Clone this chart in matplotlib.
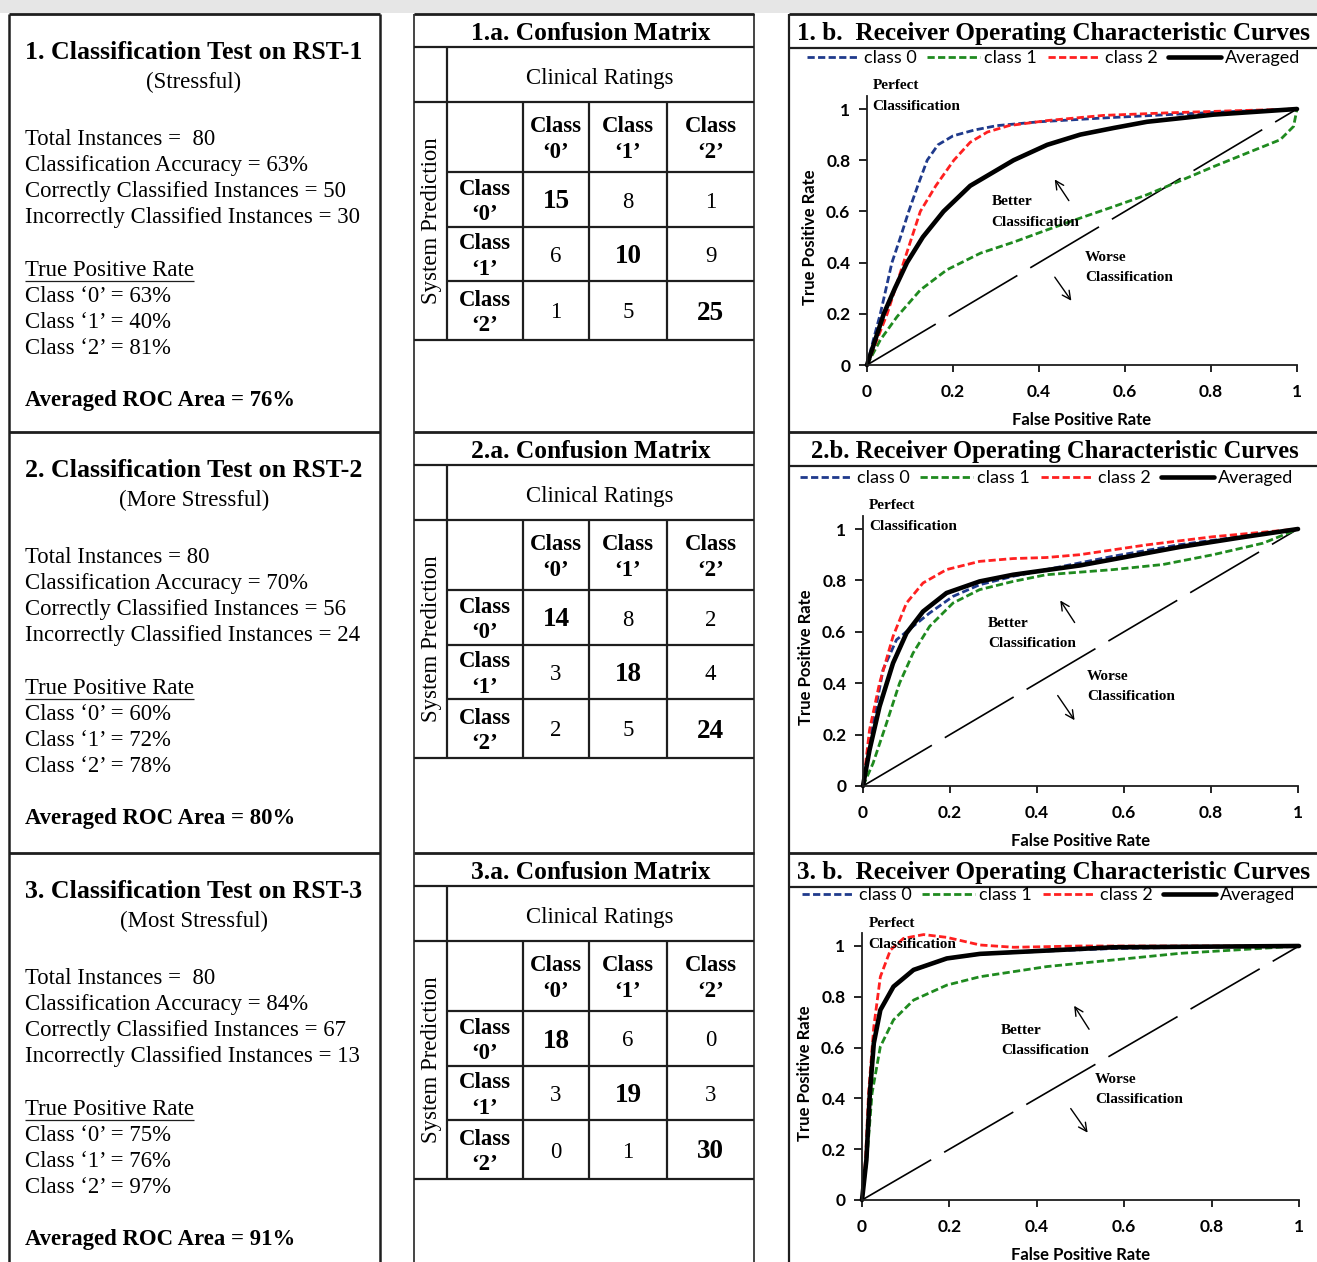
import matplotlib
matplotlib.use('Agg')
import matplotlib.pyplot as plt
from matplotlib.patches import Rectangle

# ---- left column: classification summaries
test_titles = ['1. Classification Test on RST-1', '2. Classification Test on RST-2', '3. Classification Test on RST-3']
test_subtitles = ['(Stressful)', '(More Stressful)', '(Most Stressful)']
total_txt = ['Total Instances =  80', 'Total Instances = 80', 'Total Instances =  80']
accuracy = [63, 70, 84]
correct = [50, 56, 67]
incorrect = [30, 24, 13]
tpr_class = [[63, 40, 81], [60, 72, 78], [75, 76, 97]]
roc_area = [76, 80, 91]

# ---- middle column: confusion matrices (rows = system prediction, cols = clinical ratings)
cm_titles = ['1.a. Confusion Matrix', '2.a. Confusion Matrix', '3.a. Confusion Matrix']
cm1 = [[15, 8, 1], [6, 10, 9], [1, 5, 25]]
cm2 = [[14, 8, 2], [3, 18, 4], [2, 5, 24]]
cm3 = [[18, 6, 0], [3, 19, 3], [0, 1, 30]]
class_names = ['Class\n\u20180\u2019', 'Class\n\u20181\u2019', 'Class\n\u20182\u2019']

# ---- right column: ROC curves (fpr, tpr)
roc_titles = ['1. b.  Receiver Operating Characteristic Curves',
              '2.b. Receiver Operating Characteristic Curves',
              '3. b.  Receiver Operating Characteristic Curves']
roc1_c0 = ([0, 0.015, 0.031, 0.058, 0.078, 0.097, 0.118, 0.14, 0.165, 0.2, 0.25, 0.302, 0.4, 0.55, 0.7, 0.85, 1.0],
           [0, 0.1, 0.2, 0.4, 0.5, 0.6, 0.7, 0.8, 0.86, 0.895, 0.918, 0.935, 0.95, 0.965, 0.978, 0.99, 1.0])
roc1_c1 = ([0, 0.031, 0.07, 0.124, 0.186, 0.264, 0.341, 0.419, 0.496, 0.574, 0.651, 0.729, 0.806, 0.884, 0.961, 0.992, 1.0],
           [0, 0.098, 0.189, 0.293, 0.372, 0.437, 0.48, 0.528, 0.574, 0.619, 0.665, 0.72, 0.775, 0.828, 0.88, 0.932, 1.0])
roc1_c2 = ([0, 0.047, 0.085, 0.124, 0.16, 0.202, 0.24, 0.28, 0.33, 0.42, 0.55, 0.7, 0.85, 1.0],
           [0, 0.2, 0.4, 0.6, 0.7, 0.8, 0.87, 0.91, 0.935, 0.955, 0.975, 0.985, 0.993, 1.0])
roc1_avg = ([0, 0.039, 0.065, 0.093, 0.13, 0.178, 0.24, 0.341, 0.419, 0.496, 0.574, 0.651, 0.806, 1.0],
            [0, 0.2, 0.3, 0.4, 0.5, 0.6, 0.7, 0.8, 0.86, 0.9, 0.926, 0.95, 0.978, 1.0])

roc2_c0 = ([0, 0.023, 0.046, 0.077, 0.115, 0.153, 0.207, 0.268, 0.345, 0.421, 0.498, 0.575, 0.728, 1.0],
           [0, 0.244, 0.452, 0.569, 0.621, 0.673, 0.738, 0.783, 0.816, 0.842, 0.868, 0.894, 0.939, 1.0])
roc2_c1 = ([0, 0.023, 0.054, 0.084, 0.115, 0.153, 0.207, 0.268, 0.345, 0.421, 0.575, 0.69, 0.805, 0.92, 1.0],
           [0, 0.088, 0.244, 0.4, 0.517, 0.621, 0.712, 0.764, 0.796, 0.822, 0.842, 0.862, 0.9, 0.945, 1.0])
roc2_c2 = ([0, 0.015, 0.038, 0.069, 0.1, 0.138, 0.192, 0.268, 0.345, 0.421, 0.498, 0.575, 0.651, 0.805, 1.0],
           [0, 0.218, 0.4, 0.582, 0.712, 0.79, 0.842, 0.874, 0.885, 0.889, 0.9, 0.919, 0.938, 0.97, 1.0])
roc2_avg = ([0, 0.015, 0.038, 0.069, 0.1, 0.138, 0.192, 0.268, 0.345, 0.421, 0.498, 0.575, 0.728, 0.88, 1.0],
            [0, 0.14, 0.309, 0.478, 0.595, 0.679, 0.751, 0.796, 0.822, 0.84, 0.858, 0.882, 0.93, 0.97, 1.0])

roc3_c0 = ([0, 0.01, 0.018, 0.027, 0.042, 0.072, 0.118, 0.194, 0.27, 0.423, 0.575, 0.75, 1.0],
           [0, 0.16, 0.42, 0.62, 0.75, 0.84, 0.905, 0.95, 0.968, 0.98, 0.99, 0.995, 1.0])
roc3_c1 = ([0, 0.011, 0.023, 0.042, 0.072, 0.118, 0.194, 0.27, 0.423, 0.575, 0.727, 0.88, 1.0],
           [0, 0.157, 0.42, 0.604, 0.709, 0.787, 0.846, 0.879, 0.919, 0.945, 0.971, 0.987, 1.0])
roc3_c2 = ([0, 0.008, 0.015, 0.027, 0.042, 0.065, 0.095, 0.141, 0.194, 0.27, 0.347, 0.5, 1.0],
           [0, 0.157, 0.42, 0.682, 0.879, 0.984, 1.03, 1.045, 1.034, 1.004, 0.995, 1.0, 1.0])
roc3_avg = ([0, 0.01, 0.018, 0.027, 0.042, 0.072, 0.118, 0.194, 0.27, 0.423, 0.575, 1.0],
            [0, 0.157, 0.42, 0.617, 0.748, 0.84, 0.906, 0.951, 0.969, 0.982, 0.995, 1.0])

legend_labels = ['class 0', 'class 1', 'class 2', 'Averaged']
tick_vals = [0, 0.2, 0.4, 0.6, 0.8, 1.0]
tick_txt = ['0', '0.2', '0.4', '0.6', '0.8', '1']

SERIF = 'Liberation Serif'
SANS = 'Lato'
W, H = 1317, 1262
LC = '#1e1e1e'
DY = 2.5  # nudge serif text down a little

fig = plt.figure(figsize=(W / 100, H / 100), dpi=100)
ax0 = fig.add_axes([0, 0, 1, 1])
ax0.set_xlim(0, W)
ax0.set_ylim(H, 0)
ax0.axis('off')

ax0.add_patch(Rectangle((0, 0), W, 13, color='#e6e6e6', lw=0))


def seg(x0, y0, x1, y1, lw=1.6, c=LC):
    ax0.plot([x0, x1], [y0, y1], color=c, lw=lw, solid_capstyle='butt')


def stext(x, y, s, size=16.4, bold=False, **kw):
    return ax0.text(x, y + DY, s, fontsize=size, family=SERIF, va='center',
                    weight='bold' if bold else 'normal', **kw)


offsets = [0, 418, 839]

# column frames
for x in [9, 380]:
    seg(x, 14, x, H, lw=1.8)
for x in [414, 754]:
    seg(x, 14, x, H, lw=1.4, c='#444444')
seg(789, 14, 789, H, lw=1.6)
for off in offsets:
    seg(9, 14 + off, 380, 14 + off, lw=2.0)
    seg(414, 14 + off, 754, 14 + off, lw=2.0)
    seg(789, 14 + off, W, 14 + off, lw=2.0)
    seg(789, 48 + off, W, 48 + off, lw=1.6)

# ---- left column text
fig.canvas.draw()
for i, off in enumerate(offsets):
    stext(194, 50 + off, test_titles[i], size=18.6, bold=True, ha='center')
    stext(194, 80 + off, test_subtitles[i], ha='center')
    body = [total_txt[i],
            'Classification Accuracy = %d%%' % accuracy[i],
            'Correctly Classified Instances = %d' % correct[i],
            'Incorrectly Classified Instances = %d' % incorrect[i]]
    for k, s in enumerate(body):
        stext(25, 137 + 26 * k + off, s, ha='left')
    t = stext(25, 268 + off, 'True Positive Rate', ha='left')
    tw = t.get_window_extent(renderer=fig.canvas.get_renderer()).width
    seg(25, 281 + off, 25 + tw, 281 + off, lw=0.9)
    for k in range(3):
        stext(25, 294 + 26 * k + off, 'Class \u2018%d\u2019 = %d%%' % (k, tpr_class[i][k]), ha='left')
    stext(25, 398 + off, 'Averaged ROC Area = %d%%' % roc_area[i], bold=True, ha='left')

# ---- confusion matrices
col_x = [447, 523, 589, 667, 754]
row_y = [172, 227, 281, 340]
for i, (off, cm) in enumerate(zip(offsets, [cm1, cm2, cm3])):
    seg(414, 47 + off, 754, 47 + off)
    seg(414, 102 + off, 754, 102 + off)
    for y in row_y[:-1]:
        seg(447, y + off, 754, y + off)
    seg(414, 340 + off, 754, 340 + off)
    seg(447, 47 + off, 447, 340 + off)
    for x in col_x[1:-1]:
        seg(x, 102 + off, x, 340 + off)

    stext(591, 31 + off, cm_titles[i], size=18.4, bold=True, ha='center')
    stext(600, 76 + off, 'Clinical Ratings', ha='center')
    ax0.text(431, 221 + off, 'System Prediction', ha='center', va='center', fontsize=16.4,
             family=SERIF, rotation=90)
    for j in range(3):
        cx = (col_x[j + 1] + col_x[j + 2]) / 2
        stext(cx, 137 + off, class_names[j], bold=True, ha='center', linespacing=1.3)
        ry = (row_y[j] + row_y[j + 1]) / 2
        stext(485, ry + off, class_names[j], bold=True, ha='center', linespacing=1.3)
    for r in range(3):
        for c in range(3):
            cx = (col_x[c + 1] + col_x[c + 2]) / 2
            ry = (row_y[r] + row_y[r + 1]) / 2
            if r == c:
                stext(cx, ry + off, str(cm[r][c]), size=19.5, bold=True, ha='center')
            else:
                stext(cx, ry + off, str(cm[r][c]), ha='center')

# ---- ROC panels
panels = [
    dict(curves=[roc1_c0, roc1_c1, roc1_c2, roc1_avg], box=(867, 1297, 365, 256), tx=797, leg=(807, 58),
         perfect=(0.013, 1.09, 1.01), better=(0.29, 0.637, 0.555), up=((0.473, 0.633), (0.433, 0.734)),
         worse=(0.507, 0.418, 0.34), down=((0.433, 0.352), (0.479, 0.242))),
    dict(curves=[roc2_c0, roc2_c1, roc2_c2, roc2_avg], box=(863, 1298, 786, 257), tx=811, leg=(800, 478),
         perfect=(0.014, 1.09, 1.01), better=(0.287, 0.634, 0.553), up=((0.49, 0.627), (0.45, 0.731)),
         worse=(0.515, 0.426, 0.348), down=((0.444, 0.361), (0.49, 0.247))),
    dict(curves=[roc3_c0, roc3_c1, roc3_c2, roc3_avg], box=(862, 1299, 1200, 254), tx=797, leg=(802, 895),
         perfect=(0.015, 1.089, 1.004), better=(0.318, 0.669, 0.588), up=((0.523, 0.663), (0.482, 0.774)),
         worse=(0.533, 0.475, 0.394), down=((0.474, 0.369), (0.52, 0.256))),
]
colors = ['#1f3a8c', '#1f8a1f', '#ff2020', 'black']
YTOP = 1.05
roc_title_size = [18.2, 17.7, 18.2]

for i, (off, p) in enumerate(zip(offsets, panels)):
    stext(p['tx'], 31 + off, roc_titles[i], size=roc_title_size[i], bold=True, ha='left')
    x0, x1, y0, yu = p['box']
    axh = YTOP * yu
    ax = fig.add_axes([x0 / W, (H - y0) / H, (x1 - x0) / W, axh / H])
    ax.set_facecolor('none')
    ax.plot([0, 1], [0, 1], color='black', lw=1.2, dashes=(48, 9))
    handles = []
    for k, (xs, ys) in enumerate(p['curves']):
        if k < 3:
            h, = ax.plot(xs, ys, color=colors[k], lw=2.0, dashes=(2.6, 1.2), clip_on=False)
        else:
            h, = ax.plot(xs, ys, color='black', lw=3.3, clip_on=False, solid_capstyle='round')
        handles.append(h)
    ax.set_xlim(0, 1)
    ax.set_ylim(0, YTOP)
    for s in ['top', 'right']:
        ax.spines[s].set_visible(False)
    for s in ['left', 'bottom']:
        ax.spines[s].set_linewidth(1.3)
        ax.spines[s].set_color(LC)
    ax.set_xticks(tick_vals)
    ax.set_xticklabels(tick_txt)
    ax.set_yticks(tick_vals)
    ax.set_yticklabels(tick_txt)
    ax.tick_params(axis='x', direction='out', length=5, width=1.2, pad=9, labelsize=12.5)
    ax.tick_params(axis='y', direction='out', length=6, width=1.2, pad=6, labelsize=12.5)
    for lab in ax.get_xticklabels() + ax.get_yticklabels():
        lab.set_family(SANS)
        lab.set_weight('bold')
    ax.set_xlabel('False Positive Rate', fontsize=12, weight='bold', family=SANS, va='center')
    ax.xaxis.set_label_coords(0.5, -55 / axh)
    ax.set_ylabel('True Positive Rate', fontsize=12, weight='bold', family=SANS, va='center')
    ax.yaxis.set_label_coords(-57 / (x1 - x0), 0.5 / YTOP)

    px, py1, py2 = p['perfect']
    ax.text(px, py1, 'Perfect', fontsize=11, weight='bold', family=SERIF, va='center', clip_on=False)
    ax.text(px, py2, 'Classification', fontsize=11, weight='bold', family=SERIF, va='center', clip_on=False)
    bx, by1, by2 = p['better']
    ax.text(bx, by1, 'Better', fontsize=11, weight='bold', family=SERIF, va='center')
    ax.text(bx, by2, 'Classification', fontsize=11, weight='bold', family=SERIF, va='center')
    wx, wy1, wy2 = p['worse']
    ax.text(wx, wy1, 'Worse', fontsize=11, weight='bold', family=SERIF, va='center')
    ax.text(wx, wy2, 'Classification', fontsize=11, weight='bold', family=SERIF, va='center')
    for tail, head in [p['up'], p['down']]:
        ax.annotate('', xy=head, xytext=tail,
                    arrowprops=dict(arrowstyle='->', lw=1.0, color='black', mutation_scale=15))

    lx, ly = p['leg']
    ax.legend(handles, legend_labels, loc='center left', bbox_to_anchor=(lx / W, 1 - ly / H),
              bbox_transform=fig.transFigure, ncol=4, frameon=False, borderpad=0, borderaxespad=0,
              handlelength=2.9, handletextpad=0.25, columnspacing=0.6,
              prop=dict(family=SANS, size=13))

fig.savefig('out.png', dpi=100)
